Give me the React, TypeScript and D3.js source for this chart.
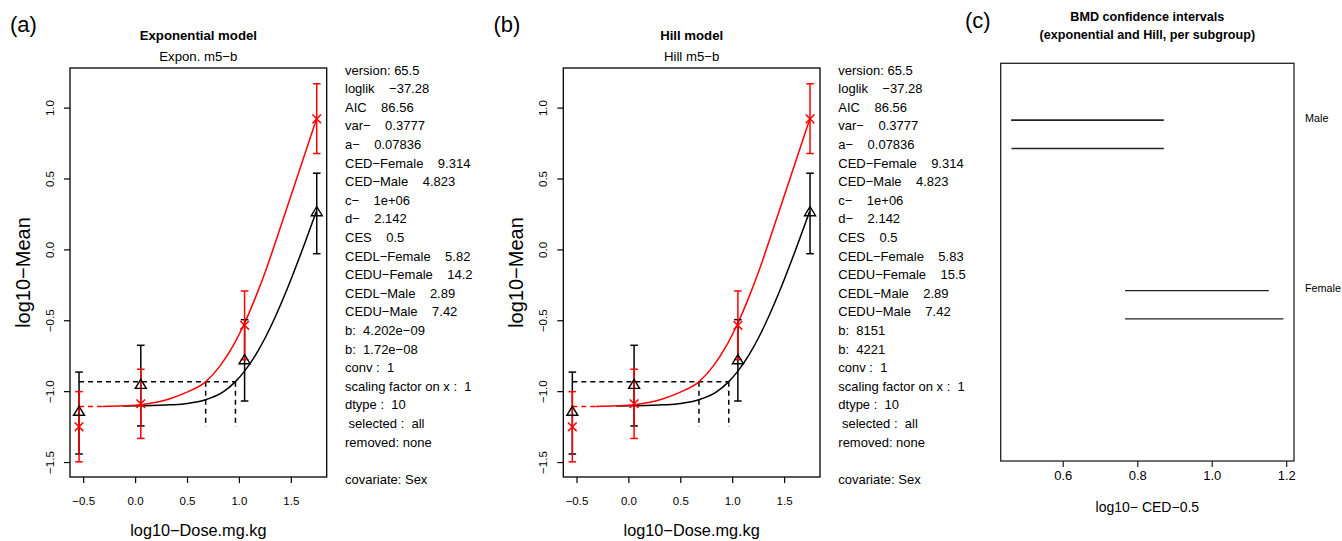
import React from 'react';
import * as d3 from 'd3';

const FONT = '"Liberation Sans", Arial, Helvetica, sans-serif';
const MINUS = '\u2212';

// observed group means with error bars (log10 scale)
const doses = [-0.545, 0.05, 1.05, 1.745];
const maleMean = [-1.248, -1.085, -0.532, 0.924];
const maleLow = [-1.495, -1.33, -0.774, 0.68];
const maleHigh = [-1.0, -0.842, -0.29, 1.172];
const femaleMean = [-1.142, -0.952, -0.778, 0.266];
const femaleLow = [-1.44, -1.242, -1.066, -0.027];
const femaleHigh = [-0.862, -0.673, -0.492, 0.541];

// fitted curves (both models look the same here)
const maleCurveX = [-0.32, -0.12, 0.05, 0.2, 0.33, 0.49, 0.674, 0.81, 0.94, 1.05, 1.16, 1.26, 1.36, 1.45, 1.58, 1.74];
const maleCurveY = [-1.104, -1.1, -1.092, -1.075, -1.05, -1.005, -0.931, -0.822, -0.676, -0.516, -0.326, -0.133, 0.082, 0.28, 0.566, 0.918];
const femaleCurveX = [-0.12, 0.05, 0.33, 0.5, 0.674, 0.84, 0.96, 1.05, 1.16, 1.26, 1.36, 1.45, 1.58, 1.74];
const femaleCurveY = [-1.102, -1.1, -1.093, -1.083, -1.057, -1.003, -0.931, -0.855, -0.737, -0.604, -0.449, -0.294, -0.05, 0.27];
const backgroundLevel = -1.104;
const cesLevel = -0.93;
const cedLog = [0.675, 0.962];
const cedDropTo = -1.25;

const xTicks = [-0.5, 0, 0.5, 1, 1.5];
const yTicks = [-1.5, -1, -0.5, 0, 0.5, 1];

const exponInfo = [
  'version: 65.5', `loglik    ${MINUS}37.28`, 'AIC    86.56', `var${MINUS}    0.3777`, `a${MINUS}    0.07836`,
  `CED${MINUS}Female    9.314`, `CED${MINUS}Male    4.823`, `c${MINUS}    1e+06`, `d${MINUS}    2.142`, 'CES    0.5',
  `CEDL${MINUS}Female    5.82`, `CEDU${MINUS}Female    14.2`, `CEDL${MINUS}Male    2.89`, `CEDU${MINUS}Male    7.42`,
  `b:  4.202e${MINUS}09`, `b:  1.72e${MINUS}08`, 'conv :  1', 'scaling factor on x :  1', 'dtype :  10',
  ' selected :  all', 'removed: none', '', 'covariate: Sex',
];
const hillInfo = [
  'version: 65.5', `loglik    ${MINUS}37.28`, 'AIC    86.56', `var${MINUS}    0.3777`, `a${MINUS}    0.07836`,
  `CED${MINUS}Female    9.314`, `CED${MINUS}Male    4.823`, `c${MINUS}    1e+06`, `d${MINUS}    2.142`, 'CES    0.5',
  `CEDL${MINUS}Female    5.83`, `CEDU${MINUS}Female    15.5`, `CEDL${MINUS}Male    2.89`, `CEDU${MINUS}Male    7.42`,
  'b:  8151', 'b:  4221', 'conv :  1', 'scaling factor on x :  1', 'dtype :  10',
  ' selected :  all', 'removed: none', '', 'covariate: Sex',
];

// BMD confidence intervals (log10 CED)
const ciLabels = ['Male', 'Female'];
const ciLabelRow = [3.0, 1.8];
const ciRow = [3.0, 2.8, 1.8, 1.6];
const ciLow = [0.46, 0.461, 0.766, 0.766];
const ciHigh = [0.87, 0.87, 1.152, 1.191];
const ciTicks = [0.6, 0.8, 1.0, 1.2];

const fmt = d3.format('.1f');

function ModelPanel({ ox, tag, title, subtitle, info }: any) {
  const x = d3.scaleLinear().domain([-0.632, 1.841]).range([70 + ox, 326.7 + ox]);
  const y = d3.scaleLinear().domain([-1.602, 1.283]).range([477, 68]);
  const line = d3.line<[number, number]>().x(d => x(d[0])).y(d => y(d[1])).curve(d3.curveMonotoneX);
  const maleCurve = line(maleCurveX.map((v, i) => [v, maleCurveY[i]] as [number, number])) || '';
  const femaleCurve = line(femaleCurveX.map((v, i) => [v, femaleCurveY[i]] as [number, number])) || '';
  const [x0, x1] = x.range();
  const [yb, yt] = y.range();
  const cap = 3.8;

  const bars = (lo: number[], hi: number[], color: string) =>
    doses.map((d, i) => (
      <g key={color + i} stroke={color} strokeWidth={1.5}>
        <line x1={x(d)} x2={x(d)} y1={y(lo[i])} y2={y(hi[i])} />
        <line x1={x(d) - cap} x2={x(d) + cap} y1={y(lo[i])} y2={y(lo[i])} />
        <line x1={x(d) - cap} x2={x(d) + cap} y1={y(hi[i])} y2={y(hi[i])} />
      </g>
    ));

  return (
    <g fontFamily={FONT}>
      <text x={10 + ox * 0.98} y={32} fontSize={22}>{tag}</text>
      <text x={(x0 + x1) / 2} y={40} fontSize={13.2} fontWeight="bold" textAnchor="middle">{title}</text>
      <text x={(x0 + x1) / 2} y={60.5} fontSize={13.2} textAnchor="middle">{subtitle}</text>

      {/* CES / CED reference lines */}
      <line x1={x(doses[0])} x2={x(cedLog[1])} y1={y(cesLevel)} y2={y(cesLevel)} stroke="#000" strokeWidth={1.5} strokeDasharray="5,4" />
      {cedLog.map((c, i) => (
        <line key={i} x1={x(c)} x2={x(c)} y1={y(cesLevel)} y2={y(cedDropTo)} stroke="#000" strokeWidth={1.5} strokeDasharray="5,4" />
      ))}
      <line x1={x(doses[0])} x2={x(maleCurveX[0])} y1={y(backgroundLevel)} y2={y(backgroundLevel)} stroke="red" strokeWidth={1.5} strokeDasharray="5,4" />

      <path d={femaleCurve} fill="none" stroke="#000" strokeWidth={1.5} />
      <path d={maleCurve} fill="none" stroke="red" strokeWidth={1.5} />

      {bars(femaleLow, femaleHigh, '#000')}
      {bars(maleLow, maleHigh, 'red')}

      {doses.map((d, i) => {
        const cx = x(d), cy = y(femaleMean[i]);
        return <path key={'t' + i} d={`M${cx},${cy - 5.5}L${cx - 5.5},${cy + 3.5}L${cx + 5.5},${cy + 3.5}Z`} fill="none" stroke="#000" strokeWidth={1.4} />;
      })}
      {doses.map((d, i) => {
        const cx = x(d), cy = y(maleMean[i]), r = 4.3;
        return <path key={'x' + i} d={`M${cx - r},${cy - r}L${cx + r},${cy + r}M${cx - r},${cy + r}L${cx + r},${cy - r}`} stroke="red" strokeWidth={1.5} />;
      })}

      <rect x={x0} y={yt} width={x1 - x0} height={yb - yt} fill="none" stroke="#000" strokeWidth={1.3} />

      {xTicks.map(t => (
        <g key={'xt' + t}>
          <line x1={x(t)} x2={x(t)} y1={yb} y2={yb + 6} stroke="#000" strokeWidth={1.2} />
          <text x={x(t)} y={505} fontSize={11.5} textAnchor="middle">{fmt(t)}</text>
        </g>
      ))}
      {yTicks.map(t => (
        <g key={'yt' + t}>
          <line x1={x0} x2={x0 - 6} y1={y(t)} y2={y(t)} stroke="#000" strokeWidth={1.2} />
          <text transform={`translate(${x0 - 20},${y(t)}) rotate(-90)`} dy="0.35em" fontSize={11.5} textAnchor="middle">{fmt(t)}</text>
        </g>
      ))}
      <text x={(x0 + x1) / 2} y={535.5} fontSize={16.3} textAnchor="middle">{`log10${MINUS}Dose.mg.kg`}</text>
      <text transform={`translate(${30 + ox},${(yt + yb) / 2}) rotate(-90)`} fontSize={20} textAnchor="middle">{`log10${MINUS}Mean`}</text>

      {info.map((s: string, i: number) => (
        <text key={'i' + i} x={345 + ox} y={74.6 + i * 18.6} fontSize={13} style={{ whiteSpace: 'pre' }}>{s}</text>
      ))}
    </g>
  );
}

function CiPanel() {
  const x = d3.scaleLinear().domain([0.432, 1.2196]).range([1000.7, 1294]);
  const y = d3.scaleLinear().domain([0.6, 3.4]).range([461, 63.3]);
  const [x0, x1] = x.range();
  const [yb, yt] = y.range();
  return (
    <g fontFamily={FONT}>
      <text x={965} y={28} fontSize={22}>(c)</text>
      <text x={(x0 + x1) / 2} y={21} fontSize={12.6} fontWeight="bold" textAnchor="middle">BMD confidence intervals</text>
      <text x={(x0 + x1) / 2} y={38.5} fontSize={12.6} fontWeight="bold" textAnchor="middle">(exponential and Hill, per subgroup)</text>
      {ciRow.map((r, i) => (
        <line key={i} x1={x(ciLow[i])} x2={x(ciHigh[i])} y1={y(r)} y2={y(r)} stroke="#222" strokeWidth={i === 0 ? 1.8 : 1.3} />
      ))}
      <rect x={x0} y={yt} width={x1 - x0} height={yb - yt} fill="none" stroke="#222" strokeWidth={1.3} />
      {ciLabels.map((l, i) => (
        <text key={l} x={1305} y={y(ciLabelRow[i]) - 2} dy="0.35em" fontSize={10.8}>{l}</text>
      ))}
      {ciTicks.map(t => (
        <g key={t}>
          <line x1={x(t)} x2={x(t)} y1={yb} y2={yb + 6} stroke="#222" strokeWidth={1.2} />
          <text x={x(t)} y={479.5} fontSize={13} textAnchor="middle">{fmt(t)}</text>
        </g>
      ))}
      <text x={(x0 + x1) / 2} y={512} fontSize={14} textAnchor="middle">{`log10${MINUS} CED${MINUS}0.5`}</text>
    </g>
  );
}

export default function App() {
  return (
    <svg width={1342} height={541} style={{ position: 'absolute', left: 0, top: 0, background: '#fff' }}>
      <ModelPanel ox={0} tag="(a)" title="Exponential model" subtitle={`Expon. m5${MINUS}b`} info={exponInfo} />
      <ModelPanel ox={493.3} tag="(b)" title="Hill model" subtitle={`Hill m5${MINUS}b`} info={hillInfo} />
      <CiPanel />
    </svg>
  );
}
